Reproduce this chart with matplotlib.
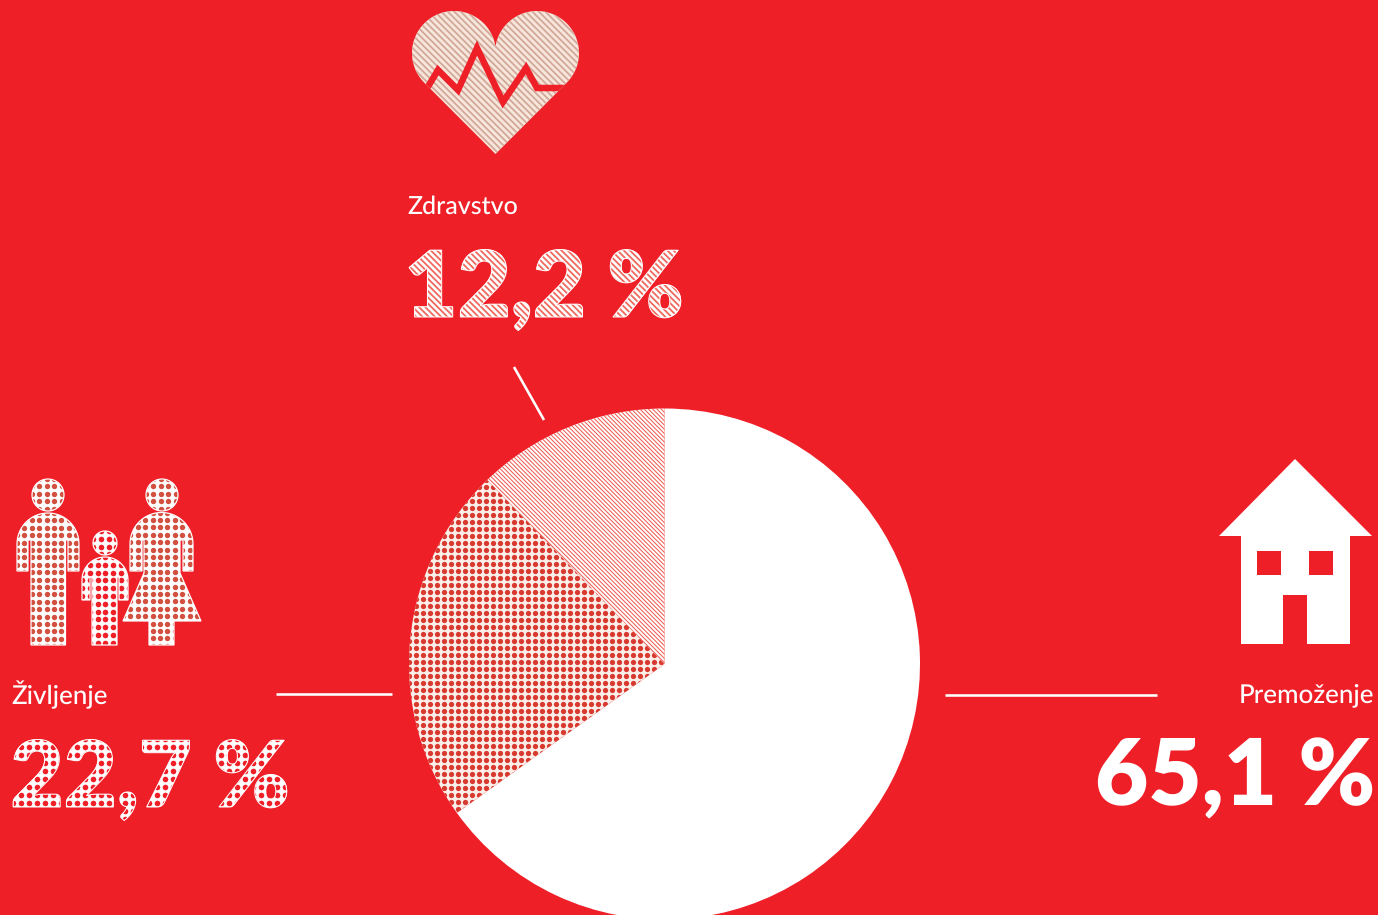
"""
Script : plot.py
Objective : Pie chart of insurance premium shares with patterned icons and labels.
"""

import numpy as np
import matplotlib
matplotlib.use("Agg")
import matplotlib.pyplot as plt
from matplotlib.collections import LineCollection
from matplotlib.font_manager import FontProperties
from matplotlib.patches import PathPatch, Polygon
from matplotlib.path import Path
from matplotlib.text import TextPath
from matplotlib.transforms import Affine2D

# === DATA ===
CATEGORIES = ["Premoženje", "Življenje", "Zdravstvo"]
SHARES = [65.1, 22.7, 12.2]
SHARE_LABELS = ["65,1 %", "22,7 %", "12,2 %"]

# === STYLE ===
RED = "#EF1F28"
WHITE = "#FFFFFF"
PX = 0.72  # one pixel in points at dpi 100
FONT_REG = FontProperties(family="Lato", weight="medium")
FONT_BOLD = FontProperties(family="Lato", weight="heavy")
LABEL_PT = 18.9
VALUE_PT = 66

plt.rcParams["text.hinting"] = "no_hinting"
plt.rcParams["text.hinting_factor"] = 1


def stripes(ax, path, spacing, color, width, zorder):
    x0, y0, x1, y1 = path.get_extents().extents
    step = spacing * np.sqrt(2)
    segs = [[(x0 - 2, x0 - 2 - c), (x1 + 2, x1 + 2 - c)] for c in np.arange(x0 - y1 - 4, x1 - y0 + 4, step)]
    lines = LineCollection(segs, colors=color, linewidths=width * PX, zorder=zorder)
    ax.add_collection(lines, autolim=False)
    lines.set_clip_path(path, ax.transData)


def dots(ax, path, spacing, size, color, zorder):
    x0, y0, x1, y1 = path.get_extents().extents
    xx, yy = np.meshgrid(np.arange(x0, x1 + spacing, spacing), np.arange(y0, y1 + spacing, spacing))
    pts = ax.scatter(xx.ravel(), yy.ravel(), s=(size * PX) ** 2, c=color, linewidths=0, zorder=zorder)
    pts.set_clip_path(path, ax.transData)


def value_text(ax, x, y, txt):
    ax.text(x, y, txt, color=WHITE, fontproperties=FONT_BOLD, fontsize=VALUE_PT, ha="left", va="baseline", zorder=3)
    tp = TextPath((0, 0), txt, size=VALUE_PT / PX, prop=FONT_BOLD)
    path = tp.transformed(Affine2D().scale(1, -1).translate(x, y))
    ax.add_patch(PathPatch(path, fc="none", ec=WHITE, lw=1.0 * PX, zorder=5))
    return path


def dome(cx, cy, r):
    # upper half circle, left to right (y axis points down)
    t = np.linspace(np.pi, 2 * np.pi, 40)
    return list(zip(cx + r * np.cos(t), cy + r * np.sin(t)))


def person(ax, outline, head, spacing, size, color):
    head_path = Path.circle(head[:2], head[2])
    body_path = Path(outline + [outline[0]], closed=True)
    for p in (head_path, body_path):
        ax.add_patch(PathPatch(p, fc=WHITE, ec="none", zorder=3))
        dots(ax, p, spacing, size, color, 4)
        ax.add_patch(PathPatch(p, fc="none", ec=WHITE, lw=1.2 * PX, zorder=5))


fig = plt.figure(figsize=(13.78, 9.15), dpi=100, facecolor=RED)
ax = fig.add_axes([0, 0, 1, 1])

# === PIE ===
wedges, _ = ax.pie(
    SHARES,
    colors=[WHITE, "#FBEFEA", WHITE],
    startangle=-90,
    counterclock=True,
    center=(664.5, 664),
    radius=255.5,
    wedgeprops={"linewidth": 0},
)
ax.set_xlim(0, 1378)
ax.set_ylim(915, 0)
ax.set_aspect("equal")
ax.axis("off")

wedge_dots = wedges[1].get_path().transformed(wedges[1].get_patch_transform())
wedge_lines = wedges[2].get_path().transformed(wedges[2].get_patch_transform())
dots(ax, wedge_dots, 7, 5.3, "#D93A30", 2)
stripes(ax, wedge_lines, 3.0, "#EE5A50", 1.0, 2)

# === LEADER LINES ===
ax.plot([276, 392], [694, 694], color=WHITE, lw=2.6 * PX, solid_capstyle="butt")
ax.plot([945, 1157], [695, 695], color=WHITE, lw=2.6 * PX, solid_capstyle="butt")
ax.plot([514, 544], [367, 420], color=WHITE, lw=2.6 * PX, solid_capstyle="butt")

# === LABELS ===
ax.text(407, 214, CATEGORIES[2], color=WHITE, fontproperties=FONT_REG, fontsize=18.3, va="baseline")
ax.text(11, 704, CATEGORIES[1], color=WHITE, fontproperties=FONT_REG, fontsize=LABEL_PT, va="baseline")
ax.text(1374, 702, CATEGORIES[0], color=WHITE, fontproperties=FONT_REG, fontsize=LABEL_PT, va="baseline", ha="right")

ax.text(1375, 805, SHARE_LABELS[0], color=WHITE, fontproperties=FONT_BOLD, fontsize=VALUE_PT, ha="right", va="baseline")
dots(ax, value_text(ax, 10.5, 807, SHARE_LABELS[1]), 8, 5.6, RED, 4)
stripes(ax, value_text(ax, 404.5, 317, SHARE_LABELS[2]), 4.4, "#F0685E", 1.8, 4)

# === HOUSE ===
house = [(1295, 459), (1372, 536), (1350, 536), (1350, 644), (1307, 644), (1307, 595), (1283, 595),
         (1283, 644), (1241, 644), (1241, 536), (1219, 536)]
ax.add_patch(Polygon(house, closed=True, fc=WHITE, ec="none", zorder=3))
for wx in (1257, 1309):
    ax.add_patch(Polygon([(wx, 551), (wx + 24, 551), (wx + 24, 575), (wx, 575)], closed=True, fc=RED, ec="none", zorder=4))

# === HEART ===
a_left = np.linspace(np.radians(135), np.radians(351), 60)
a_right = np.linspace(np.radians(189), np.radians(405), 60)
heart = list(zip(454 + 42 * np.cos(a_left), 53 + 42 * np.sin(a_left)))
heart += list(zip(537 + 42 * np.cos(a_right), 53 + 42 * np.sin(a_right)))
heart += [(495.5, 154)]
heart_path = Path(heart + [heart[0]], closed=True)
ax.add_patch(PathPatch(heart_path, fc="#F7E6DC", ec="none", zorder=3))
stripes(ax, heart_path, 4.6, "#D2A898", 1.8, 4)
pulse_x = [426, 438, 458, 477, 503, 526, 537, 566]
pulse_y = [90, 70, 90, 48, 102, 68, 88, 88]
pulse, = ax.plot(pulse_x, pulse_y, color=RED, lw=6.5 * PX, solid_joinstyle="miter", zorder=5)
pulse.set_clip_path(heart_path, ax.transData)

# === FAMILY ===
man = dome(48, 544, 31) + [(79, 571), (68, 571), (68, 540), (65.5, 540), (65.5, 645), (31, 645), (31, 540),
                           (28, 540), (28, 571), (17, 571)]
woman = dome(161.5, 544, 31.5) + [(193, 571), (183, 571), (183, 540), (180, 540), (180, 573), (201, 621), (174, 621),
                                  (174, 645), (149, 645), (149, 621), (123, 621), (144, 573), (144, 540),
                                  (142, 540), (142, 571), (130, 571)]
child = dome(105, 580, 23) + [(128, 600), (119, 600), (119, 577), (117, 577), (117, 645), (92, 645), (92, 577),
                              (90, 577), (90, 600), (82, 600)]
person(ax, man, (48, 495, 16), 7.4, 5.4, "#D2503F")
person(ax, woman, (162, 495, 16), 7.4, 5.4, "#D2503F")
person(ax, child, (105, 543, 12), 7.8, 5.6, RED)

fig.savefig("out.png", dpi=100, facecolor=RED)
